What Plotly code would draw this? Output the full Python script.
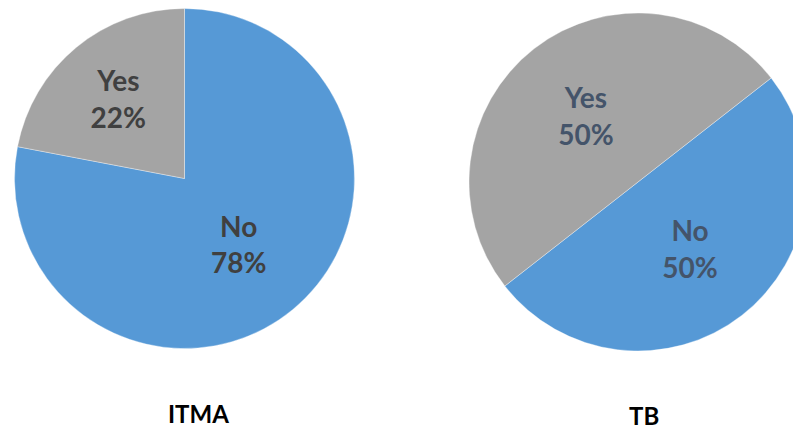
import plotly.graph_objects as go

# Data
charts = ["ITMA", "TB"]
labels = ["No", "Yes"]
itma_values = [78, 22]
tb_values = [50, 50]
rotations = [0, 52]

W, H = 810, 431
blue = "#5699D6"
gray = "#A4A4A4"

fig = go.Figure()
fig.add_trace(go.Pie(
    labels=labels, values=itma_values, sort=False, direction="clockwise",
    rotation=rotations[0],
    domain=dict(x=[14.5 / W, 354.5 / W], y=[1 - 348.5 / H, 1 - 8.5 / H]),
    marker=dict(colors=[blue, gray], line=dict(color="rgba(255,255,255,0.5)", width=0.7)),
    textinfo="label+percent", textposition="inside", insidetextorientation="horizontal",
    insidetextfont=dict(family="Lato", size=28, color="#404040", weight="bold"),
    showlegend=False, hoverinfo="label+percent",
))
fig.add_trace(go.Pie(
    labels=labels, values=tb_values, sort=False, direction="clockwise",
    rotation=rotations[1],
    domain=dict(x=[469 / W, 807 / W], y=[1 - 351 / H, 1 - 13 / H]),
    marker=dict(colors=[blue, gray], line=dict(color="rgba(255,255,255,0.5)", width=0.7)),
    textinfo="label+percent", textposition="inside", insidetextorientation="horizontal",
    insidetextfont=dict(family="Lato", size=28, color="#44546A", weight="bold"),
    showlegend=False, hoverinfo="label+percent",
))

fig.add_annotation(text=charts[0], x=198.5 / W, y=1 - 413 / H, xref="paper", yref="paper",
                   xanchor="center", yanchor="middle", borderpad=0,
                   showarrow=False, font=dict(family="Lato", size=24, color="#000000", weight="bold"))
fig.add_annotation(text=charts[1], x=643.5 / W, y=1 - 415 / H, xref="paper", yref="paper",
                   xanchor="center", yanchor="middle", borderpad=0,
                   showarrow=False, font=dict(family="Lato", size=24, color="#000000", weight="bold"))

fig.update_layout(width=W, height=H, margin=dict(l=0, r=0, t=0, b=0),
                  paper_bgcolor="white", plot_bgcolor="white")

fig.write_html("out.html", config={"displayModeBar": False},
               post_script="document.documentElement.style.overflow='hidden';document.body.style.overflow='hidden';document.body.style.margin='0';")
